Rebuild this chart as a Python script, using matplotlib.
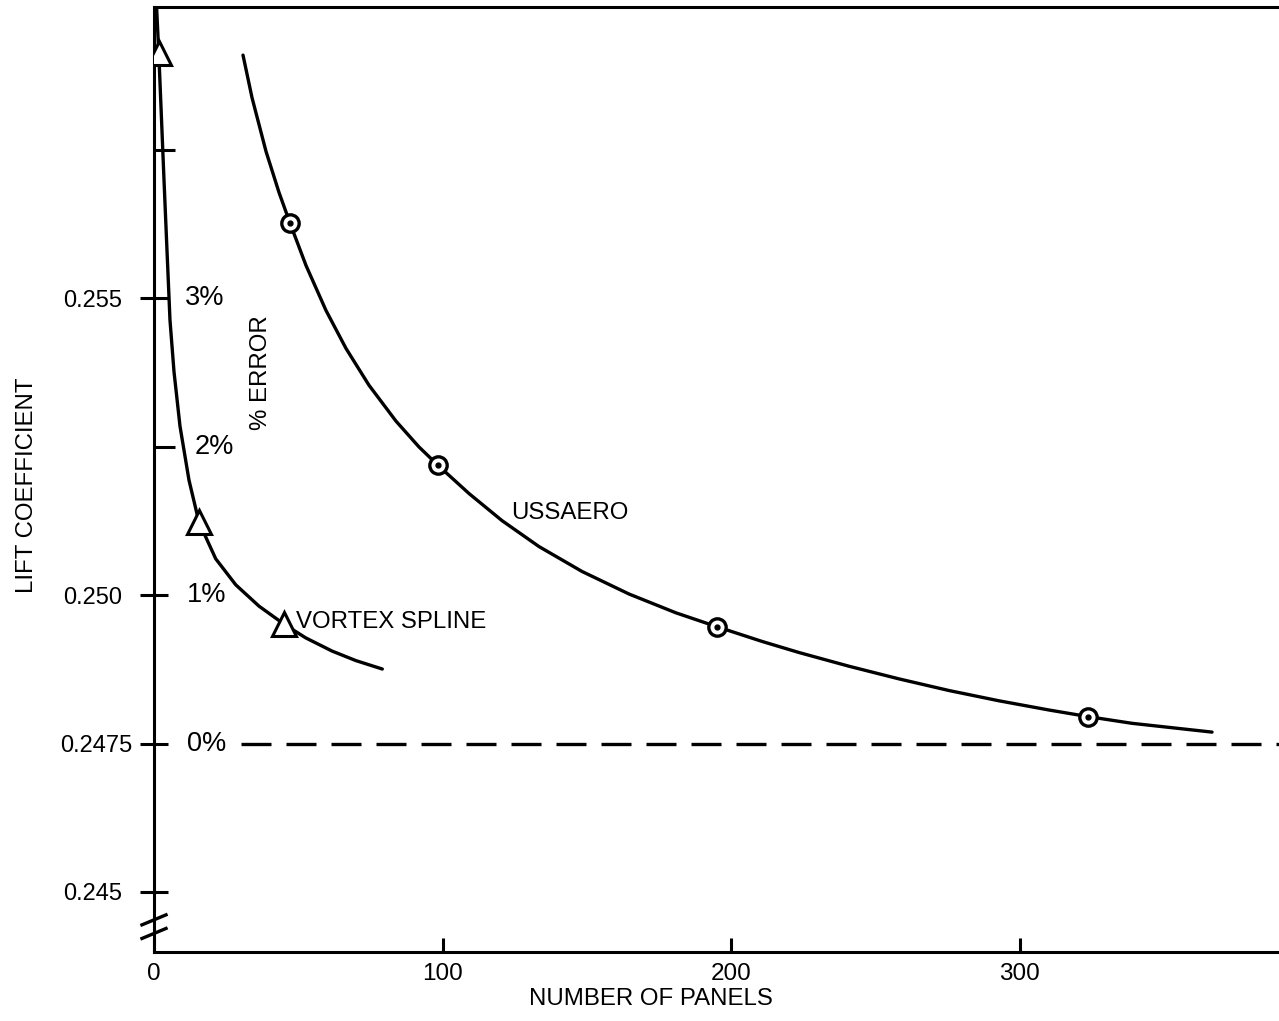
import matplotlib
matplotlib.use("Agg")
import matplotlib.pyplot as plt
from matplotlib.transforms import ScaledTranslation

plt.rcParams['font.family'] = ['Liberation Sans', 'DejaVu Sans']

# Data
vortex_curve_x = [0.80, 1.66, 2.43, 3.47, 4.50, 5.54, 6.93, 9.01, 12.13, 15.59,
                  21.38, 28.31, 36.38, 45.05, 52.56, 61.68, 69.89, 79.11]
vortex_curve_y = [0.26000, 0.259125, 0.258215, 0.256987, 0.255808, 0.254630,
                  0.253761, 0.252842, 0.251933, 0.251226, 0.250611, 0.250173,
                  0.249813, 0.249510, 0.249279, 0.249057, 0.248897, 0.248754]
vortex_pts_x = [1.66, 15.59, 45.05]
vortex_pts_y = [0.259125, 0.251226, 0.249510]

ussaero_curve_x = [30.84, 33.96, 38.81, 43.31, 47.12, 52.67, 59.60, 66.53, 74.50,
                   83.85, 91.82, 98.41, 109.15, 120.58, 133.40, 148.30, 164.59,
                   180.87, 195.08, 210.67, 223.49, 240.82, 258.14, 275.47, 292.79,
                   310.12, 323.63, 338.88, 366.60]
ussaero_curve_y = [0.259091, 0.258375, 0.257470, 0.256779, 0.256263, 0.255549,
                   0.254791, 0.254152, 0.253532, 0.252928, 0.252493, 0.252184,
                   0.251709, 0.251253, 0.250816, 0.250397, 0.250017, 0.249700,
                   0.249466, 0.249219, 0.249032, 0.248801, 0.248588, 0.248392,
                   0.248219, 0.248064, 0.247953, 0.247840, 0.247692]
ussaero_pts_x = [47.12, 98.41, 195.08, 323.63]
ussaero_pts_y = [0.256263, 0.252184, 0.249466, 0.247953]

exact_cl = 0.2475
dash_start = 30

y_ticks = [0.245, 0.2475, 0.250, 0.255]
y_ticklabels = ['0.245', '0.2475', '0.250', '0.255']
y_minor = [0.2525, 0.2575]
x_ticks = [0, 100, 200, 300]

pct_y = [0.2475, 0.250, 0.2525, 0.255]
pct_labels = ['0%', '1%', '2%', '3%']
pct_x = [11.5, 11.5, 14.2, 10.7]

fig = plt.figure(figsize=(12.79, 10.21), dpi=100)
ax = fig.add_axes([0.1204, 0.0676, 0.8796, 0.9255])
ax.set_xlim(0, 389.8)
ax.set_ylim(0.24399, 0.25990)

# curves
ax.plot(vortex_curve_x, vortex_curve_y, color='black', lw=2.4, zorder=2,
        solid_joinstyle='round', solid_capstyle='round')
ax.plot(ussaero_curve_x, ussaero_curve_y, color='black', lw=2.4, zorder=2,
        solid_joinstyle='round', solid_capstyle='round')
ax.plot(vortex_pts_x, vortex_pts_y, linestyle='none', marker='^', ms=17,
        mfc='white', mec='black', mew=2.2, zorder=3)
ax.plot(ussaero_pts_x, ussaero_pts_y, linestyle='none', marker='o', ms=12.5,
        mfc='white', mec='black', mew=2.4, zorder=3)
ax.plot(ussaero_pts_x, ussaero_pts_y, linestyle='none', marker='o', ms=3.5,
        color='black', zorder=4)

# exact value
ax.plot([dash_start, 389.8], [exact_cl, exact_cl], color='black', lw=2.4,
        linestyle=(0, (9, 4.5)), zorder=2)

# labels
ax.text(49.2, 0.24955, 'VORTEX SPLINE', fontsize=17.3, va='center', ha='left')
ax.text(123.7, 0.25138, 'USSAERO', fontsize=17.3, va='center', ha='left')
ax.text(37.0, 0.25374, '% ERROR', fontsize=17.3, rotation=90, va='center', ha='center')
for px, py, lab in zip(pct_x, pct_y, pct_labels):
    ax.text(px, py, lab, fontsize=19.5, va='center', ha='left')

# axes styling
for s in ['left', 'bottom', 'top']:
    ax.spines[s].set_linewidth(2.2)
ax.spines['right'].set_visible(False)

ax.set_yticks(y_ticks)
ax.set_yticklabels(y_ticklabels)
ax.set_yticks(y_minor, minor=True)
ax.set_xticks(x_ticks)
ax.tick_params(axis='y', which='major', direction='inout', length=20, width=2.2,
               pad=13, labelsize=17)
ax.tick_params(axis='y', which='minor', direction='in', length=15, width=2.2)
ax.tick_params(axis='x', which='major', direction='in', length=10, width=2.2,
               pad=8, labelsize=17.5)

# the 0.2475 label sits closer to its tick
lab = ax.yaxis.get_major_ticks()[1].label1
lab.set_transform(lab.get_transform() + ScaledTranslation(0.10, 0, fig.dpi_scale_trans))

ax.set_xlabel('NUMBER OF PANELS', fontsize=17.3)
ax.xaxis.set_label_coords(0.442, -0.038)
ax.set_ylabel('LIFT COEFFICIENT', fontsize=17.3)
ax.yaxis.set_label_coords(-0.103, 0.494)

# axis break marks
for yb in [0.034, 0.0196]:
    ax.plot([-0.0107, 0.0107], [yb - 0.0053, yb + 0.0053], transform=ax.transAxes,
            color='black', lw=2.4, clip_on=False, zorder=5)

plt.savefig('out.png', dpi=100)
